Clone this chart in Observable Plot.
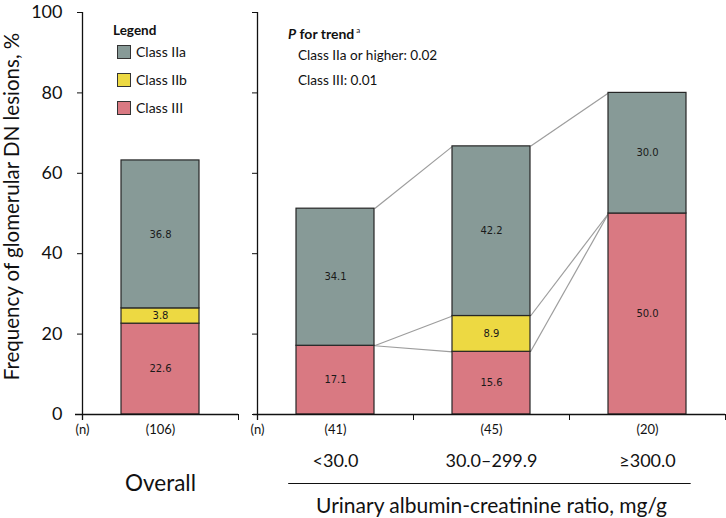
<!DOCTYPE html>
<html><head><meta charset="utf-8">
<script src="https://cdn.jsdelivr.net/npm/d3@7"></script>
<script src="https://cdn.jsdelivr.net/npm/@observablehq/plot@0.6"></script>
<style>
body{margin:0;background:#fff;}
#wrap{position:relative;width:726px;height:518px;font-family:Lato,sans-serif;color:#111;}
#left{position:absolute;left:0;top:0;}
#right{position:absolute;left:245px;top:0;}
.ov{position:absolute;font-size:13.6px;line-height:16px;white-space:nowrap;}
.sw{position:absolute;width:12px;height:12px;border:1px solid #333;}
</style></head>
<body><div id="wrap"><div id="left"></div><div id="right"></div>
<div id="legend"></div><div id="trend"></div></div>
<script>
// ---- data ----
const classes = ["Class III", "Class IIb", "Class IIa"];
const classColors = ["#D97982", "#EDD942", "#879A97"];
const legendOrder = ["Class IIa", "Class IIb", "Class III"];

const overallCategories = ["Overall"];
const overallN = ["(106)"];
const overallIII = [22.6];
const overallIIb = [3.8];
const overallIIa = [36.8];

const uacrCategories = ["<30.0", "30.0–299.9", "≥300.0"];
const uacrN = ["(41)", "(45)", "(20)"];
const uacrIII = [17.1, 15.6, 50.0];
const uacrIIb = [0, 8.9, 0];
const uacrIIa = [34.1, 42.2, 30.0];

const yTicks = [0, 20, 40, 60, 80, 100];
const yTitle = "Frequency of glomerular DN lesions, %";
const xTitle = "Urinary albumin-creatinine ratio, mg/g";
const trendTitle = "for trend";
const trendLines = ["Class IIa or higher: 0.02", "Class III: 0.01"];

// ---- helpers ----
function segments(cats, s3, s2b, s2a) {
  const out = [];
  cats.forEach((c, i) => {
    let base = 0;
    [[classes[0], s3[i]], [classes[1], s2b[i]], [classes[2], s2a[i]]].forEach(([cls, v]) => {
      if (v > 0) out.push({i, cat: c, cls, value: v, y1: base, y2: base + v});
      base += v;
    });
  });
  return out;
}
function links(s3, s2b, s2a) {
  const lv = s3.map((v, i) => [v, v + s2b[i], v + s2b[i] + s2a[i]]);
  const out = [];
  for (let i = 0; i < lv.length - 1; i++)
    for (let k = 0; k < 3; k++) out.push({i, a: lv[i][k], b: lv[i + 1][k]});
  return out;
}

function panel({cats, n, s3, s2b, s2a, width, marginLeft, marginRight, labels, extendLeft, extra}) {
  const segs = segments(cats, s3, s2b, s2a);
  const nRows = [{x: 0, t: "(n)"}].concat(cats.map((c, i) => ({x: i + 0.5, t: n[i]})));
  return Plot.plot({
    width, height: 518,
    marginLeft, marginRight, marginTop: 12, marginBottom: 104,
    style: {fontFamily: "Lato, sans-serif", fontSize: "18px", color: "#111", background: "transparent", overflow: "visible"},
    x: {domain: [0, cats.length], axis: "bottom", ticks: d3.range(cats.length + 1), tickSize: 6, tickFormat: () => "", label: null},
    y: {domain: [0, 100], ticks: yTicks, tickSize: 5, tickPadding: 15, label: null,
        tickFormat: labels ? (d => d) : (() => "")},
    color: {domain: classes, range: classColors},
    marks: [
      Plot.link(links(s3, s2b, s2a), {x1: d => d.i + 0.75, x2: d => d.i + 1.25, y1: "a", y2: "b", stroke: "#9d9d9d", strokeWidth: 1.2}),
      Plot.rect(segs, {x1: d => d.i + 0.25, x2: d => d.i + 0.75, y1: "y1", y2: "y2", fill: "cls", stroke: "#262626", strokeWidth: 1.2}),
      Plot.text(segs, {x: d => d.i + 0.5, y: d => (d.y1 + d.y2) / 2, text: d => d.value.toFixed(1),
        fontFamily: "DejaVu Sans", fontSize: 10, fill: "#1a1a1a"}),
      Plot.ruleY([0], {insetLeft: -extendLeft, stroke: "#111", strokeWidth: 1.3}),
      Plot.ruleX([0], {insetBottom: -6, stroke: "#111", strokeWidth: 1.3}),
      Plot.text(nRows, {x: "x", y: () => 0, text: "t", dy: 15, fontSize: 13, fill: "#111"}),
      ...extra(segs)
    ]
  });
}

const left = panel({
  cats: overallCategories, n: overallN, s3: overallIII, s2b: overallIIb, s2a: overallIIa,
  width: 245, marginLeft: 82, marginRight: 7, labels: true, extendLeft: 7,
  extra: () => [
    Plot.text(overallCategories, {x: (d, i) => i + 0.5, y: () => 0, text: d => d, dy: 69, fontSize: 22.5, fill: "#111"}),
    Plot.text([yTitle], {frameAnchor: "left", textAnchor: "middle", text: d => d, rotate: -90, dx: -70, dy: -7, fontSize: 20.5, fill: "#111"})
  ]
});
document.getElementById("left").append(left);

const right = panel({
  cats: uacrCategories, n: uacrN, s3: uacrIII, s2b: uacrIIb, s2a: uacrIIa,
  width: 481, marginLeft: 12, marginRight: 1, labels: false, extendLeft: 4,
  extra: () => [
    Plot.text(uacrCategories, {x: (d, i) => i + 0.5, y: () => 0, text: d => d, dy: 47, fontSize: 18, fill: "#111"}),
    Plot.ruleY([{y: 0, x1: 0.2, x2: 2.78}], {y: "y", x1: "x1", x2: "x2", dy: 69, stroke: "#111", strokeWidth: 1}),
    Plot.text([xTitle], {x: () => 1.5, y: () => 0, text: d => d, dy: 92, fontSize: 21, fill: "#111"})
  ]
});
document.getElementById("right").append(right);

// ---- legend (left panel) ----
const lg = document.getElementById("legend");
lg.innerHTML = `<div class="ov" style="left:113px;top:22px;font-weight:bold;font-size:13.5px;">Legend</div>` +
  legendOrder.map((c, k) => {
    const col = classColors[classes.indexOf(c)];
    const cy = 52 + k * 28;
    return `<div class="sw" style="left:117px;top:${cy - 7}px;background:${col}"></div>` +
           `<div class="ov" style="left:136px;top:${cy - 8}px;font-size:14px;">${c}</div>`;
  }).join("");

// ---- trend annotation (right panel) ----
const tr = document.getElementById("trend");
tr.innerHTML = `<div class="ov" style="left:288px;top:22px;font-weight:bold;font-size:14px;"><i>P</i> ${trendTitle}<sup style="font-size:8px;font-weight:normal;vertical-align:6px;margin-left:2px;">a</sup></div>` +
  trendLines.map((t, k) => `<div class="ov" style="left:298px;top:${47 + k * 24.5}px;">${t}</div>`).join("");
</script>
</body></html>
